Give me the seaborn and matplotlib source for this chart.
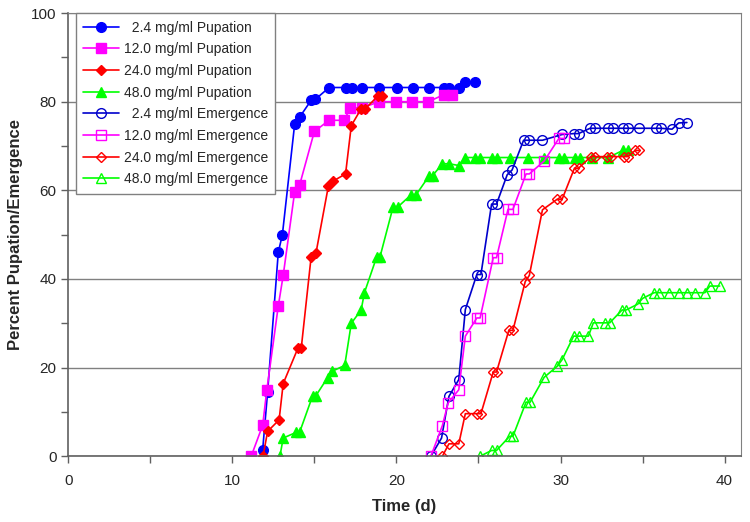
import numpy as np
import pandas as pd
import seaborn as sns
import matplotlib
matplotlib.use("Agg")
import matplotlib.pyplot as plt
from matplotlib.ticker import MultipleLocator

# pupation curves
pup_24_x = [11.85, 12.15, 12.8, 13.05, 13.8, 14.1, 14.8, 15.05, 15.9, 16.95, 17.3, 17.9, 18.95, 20.05, 21.0, 22.0, 22.9, 23.2, 23.8, 24.2, 24.8]
pup_24_y = [1.5, 14.5, 46.0, 50.0, 75.0, 76.5, 80.3, 80.5, 83.2, 83.2, 83.2, 83.2, 83.2, 83.2, 83.2, 83.2, 83.2, 83.2, 83.2, 84.4, 84.4]

pup_120_x = [11.15, 11.85, 12.1, 12.8, 13.1, 13.8, 14.1, 15.0, 15.9, 16.8, 17.2, 17.9, 18.95, 19.95, 20.95, 21.95, 22.9, 23.4]
pup_120_y = [0.0, 7.0, 14.9, 33.9, 40.8, 59.7, 61.2, 73.3, 75.8, 75.8, 78.6, 78.6, 80.0, 80.0, 80.0, 80.0, 81.6, 81.6]

pup_240_x = [11.87, 12.15, 12.85, 13.1, 14.0, 14.2, 14.8, 15.1, 15.85, 16.15, 16.9, 17.25, 17.85, 18.1, 18.85, 19.15]
pup_240_y = [0.0, 5.6, 8.2, 16.4, 24.4, 24.4, 44.9, 45.9, 60.9, 62.1, 63.7, 74.6, 78.4, 78.4, 81.2, 81.2]

pup_480_x = [12.9, 13.1, 13.9, 14.1, 14.9, 15.1, 15.8, 16.1, 16.85, 17.25, 17.85, 18.05, 18.8, 19.0, 19.8, 20.1, 20.9, 21.2, 22.0, 22.2,
             22.8, 23.2, 23.8, 24.2, 24.8, 25.1, 25.8, 26.1, 26.9, 28.0, 29.0, 29.9, 30.2, 30.9, 31.2, 31.9, 32.9, 33.8, 34.1]
pup_480_y = [0.0, 4.1, 5.4, 5.4, 13.7, 13.7, 17.7, 19.2, 20.5, 30.0, 33.0, 36.9, 45.0, 45.0, 56.3, 56.3, 59.0, 59.0, 63.3, 63.3,
             66.0, 66.0, 65.6, 67.4, 67.4, 67.4, 67.4, 67.4, 67.4, 67.4, 67.4, 67.4, 67.4, 67.4, 67.4, 67.4, 67.4, 69.0, 69.0]

# emergence curves
em_24_x = [22.1, 22.75, 23.2, 23.8, 24.2, 24.9, 25.15, 25.8, 26.1, 26.75, 27.05, 27.75, 28.1, 28.9, 30.1, 30.8, 31.1, 31.8, 32.1,
           32.9, 33.2, 33.8, 34.1, 34.8, 35.8, 36.1, 36.8, 37.2, 37.7]
em_24_y = [0.0, 4.1, 13.5, 17.3, 33.1, 41.0, 41.0, 56.9, 56.9, 63.5, 64.6, 71.3, 71.3, 71.3, 72.6, 72.8, 72.8, 74.0, 74.0,
           74.0, 74.0, 74.0, 74.0, 74.0, 74.0, 74.0, 73.8, 75.2, 75.3]

em_120_x = [22.1, 22.8, 23.15, 23.8, 24.2, 24.9, 25.1, 25.9, 26.1, 26.8, 27.1, 27.9, 28.1, 29.0, 29.9, 30.2]
em_120_y = [0.0, 6.9, 12.0, 15.0, 27.1, 31.2, 31.2, 44.8, 44.8, 55.7, 55.7, 63.7, 63.7, 66.6, 71.7, 71.7]

em_240_x = [22.8, 23.2, 23.8, 24.2, 24.9, 25.15, 25.9, 26.1, 26.85, 27.1, 27.85, 28.1, 28.9, 29.8, 30.1, 30.85, 31.1, 31.85, 32.1,
            32.85, 33.1, 33.85, 34.1, 34.55, 34.8]
em_240_y = [0.0, 2.8, 2.8, 9.6, 9.6, 9.6, 19.0, 19.0, 28.4, 28.4, 39.4, 40.8, 55.6, 58.0, 58.0, 65.0, 65.0, 67.6, 67.6,
            67.6, 67.6, 67.6, 67.6, 69.0, 69.0]

em_480_x = [25.1, 25.8, 26.1, 26.9, 27.1, 27.9, 28.15, 29.0, 29.8, 30.1, 30.8, 31.1, 31.7, 32.0, 32.7, 33.0, 33.75, 34.0, 34.7,
            35.0, 35.7, 36.0, 36.6, 37.2, 37.7, 38.2, 38.8, 39.1, 39.7]
em_480_y = [0.0, 1.3, 1.3, 4.5, 4.5, 12.2, 12.2, 17.8, 20.3, 21.8, 27.1, 27.1, 27.1, 30.1, 30.1, 30.1, 33.0, 33.0, 34.3,
            35.6, 36.9, 36.9, 36.9, 36.9, 36.9, 36.9, 36.9, 38.4, 38.4]

series = [
    ("  2.4 mg/ml Pupation", pup_24_x, pup_24_y, "#0000FF", "o", True),
    ("12.0 mg/ml Pupation", pup_120_x, pup_120_y, "#FF00FF", "s", True),
    ("24.0 mg/ml Pupation", pup_240_x, pup_240_y, "#FF0000", "D", True),
    ("48.0 mg/ml Pupation", pup_480_x, pup_480_y, "#00FF00", "^", True),
    ("  2.4 mg/ml Emergence", em_24_x, em_24_y, "#0000CC", "o", False),
    ("12.0 mg/ml Emergence", em_120_x, em_120_y, "#FF00FF", "s", False),
    ("24.0 mg/ml Emergence", em_240_x, em_240_y, "#FF0000", "D", False),
    ("48.0 mg/ml Emergence", em_480_x, em_480_y, "#00FF00", "^", False),
]

sns.set_style("white")
plt.rcParams['font.family'] = ['Liberation Sans', 'DejaVu Sans']

fig, ax = plt.subplots(figsize=(7.5, 5.22), dpi=100)
fig.subplots_adjust(left=0.091, right=0.988, top=0.975, bottom=0.126)

for label, xs, ys, color, marker, filled in series:
    ms = 7 if marker != "D" else 5.5
    sns.lineplot(x=xs, y=ys, ax=ax, color=color, marker=marker, markersize=ms,
                 markerfacecolor=color if filled else "none", markeredgecolor=color,
                 markeredgewidth=1.0, linewidth=1.2, label=label, estimator=None, sort=False)

ax.set_xlim(0, 41)
ax.set_ylim(0, 100)
ax.xaxis.set_major_locator(MultipleLocator(10))
ax.xaxis.set_minor_locator(MultipleLocator(5))
ax.yaxis.set_major_locator(MultipleLocator(20))
ax.yaxis.set_minor_locator(MultipleLocator(10))
ax.grid(axis="y", which="major", color="#808080", linewidth=1.0)
ax.set_axisbelow(True)
ax.tick_params(axis="both", which="both", direction="out", length=5, width=1, color="#606060",
               bottom=True, left=True, labelsize=11)
ax.tick_params(axis="x", which="major", pad=8)
for s in ["top", "right"]:
    ax.spines[s].set_color("#808080")
for s in ["left", "bottom"]:
    ax.spines[s].set_color("#606060")
    ax.spines[s].set_linewidth(1.2)

ax.set_xlabel("Time (d)", fontsize=12, fontweight="bold", labelpad=8)
ax.set_ylabel("Percent Pupation/Emergence", fontsize=12, fontweight="bold", labelpad=6)

leg = ax.legend(loc="upper left", bbox_to_anchor=(0.011, 1.0), borderaxespad=0, fontsize=10, frameon=True,
                fancybox=False, edgecolor="#808080", framealpha=1, borderpad=0.55, labelspacing=0.55,
                handlelength=2.6, handletextpad=0.3)
leg.get_frame().set_linewidth(1.0)

plt.savefig("out.png", dpi=100)
